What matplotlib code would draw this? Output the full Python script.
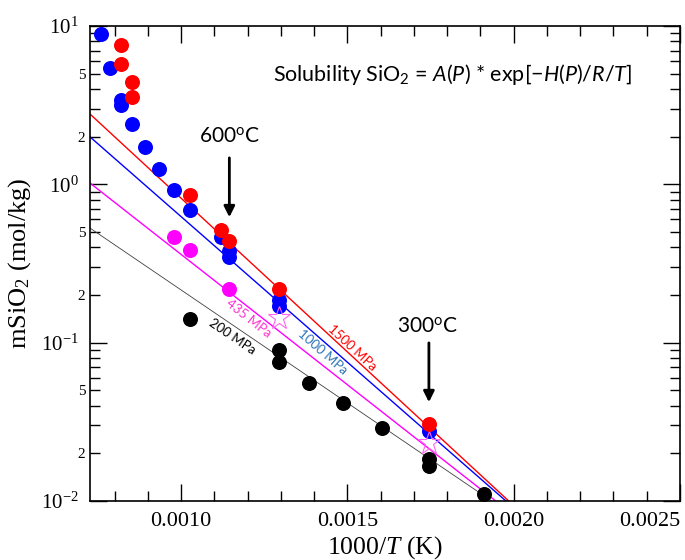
import numpy as np
import matplotlib
matplotlib.use("Agg")
import matplotlib.pyplot as plt
from matplotlib.ticker import MultipleLocator, LogLocator, FuncFormatter

# math fonts: Lato for the annotation text, serif italic (via \mathsf) for the axis label
plt.rcParams['mathtext.fontset'] = 'custom'
plt.rcParams['mathtext.rm'] = 'Lato'
plt.rcParams['mathtext.it'] = 'Lato:italic'
plt.rcParams['mathtext.sf'] = 'Liberation Serif:italic'
plt.rcParams['font.family'] = ['Liberation Serif', 'DejaVu Serif']

# data: x = 1/T (1/K), m = SiO2 molality (mol/kg)
x_1500 = [0.000818, 0.000818, 0.000853, 0.000853, 0.001028, 0.001120, 0.001145, 0.001294, 0.001745]
m_1500 = [7.59, 5.75, 4.43, 3.58, 0.856, 0.514, 0.438, 0.218, 0.0306]

x_1000 = [0.000760, 0.000786, 0.000818, 0.000818, 0.000853, 0.000890, 0.000932, 0.000978,
          0.001028, 0.001120, 0.001145, 0.001145, 0.001294, 0.001294, 0.001745]
m_1000 = [8.90, 5.43, 3.41, 3.17, 2.40, 1.72, 1.25, 0.92,
          0.688, 0.465, 0.379, 0.347, 0.186, 0.170, 0.0277]

x_435 = [0.000978, 0.001028, 0.001145]
m_435 = [0.465, 0.385, 0.218]
x_435_star = [0.001294, 0.001745]
m_435_star = [0.143, 0.0232]

x_200 = [0.001028, 0.001294, 0.001294, 0.001383, 0.001486, 0.001605, 0.001745, 0.001745, 0.001912]
m_200 = [0.141, 0.0897, 0.0754, 0.0556, 0.0415, 0.0289, 0.0184, 0.0166, 0.0111]

# fitted lines m = A * exp(-H/R/T)
fit_labels = ['1500 MPa', '1000 MPa', '435 MPa', '200 MPa']
fit_A = [71.3, 43.1, 15.96, 5.75]
fit_H = [37.16, 35.20, 31.51, 27.32]   # kJ/mol
R = 8.314

x_ticks = [0.0010, 0.0015, 0.0020, 0.0025]
x_ticklabels = ['0.0010', '0.0015', '0.0020', '0.0025']

line_colors = ['#ff0000', '#0000ff', '#ff00ff', '#404040']
text_colors = ['#ff0000', '#2e75b6', '#ff33cc', '#000000']
line_widths = [1.0, 1.0, 1.0, 0.6]
label_pos = [(0.001515, 0.0925), (0.001425, 0.0873), (0.001202, 0.143), (0.001154, 0.1084)]

fig = plt.figure(figsize=(6.85, 5.6), dpi=100)
ax = fig.add_axes([0.1314, 0.1054, 0.8613, 0.8482])
ax.set_yscale('log')
ax.set_xlim(0.000726, 0.0025)
ax.set_ylim(0.01, 10)

xx = np.linspace(0.000726, 0.0025, 300)
for A, H, c, lw in zip(fit_A, fit_H, line_colors, line_widths):
    ax.plot(xx, A * np.exp(-H * 1000 / R * xx), color=c, lw=lw, zorder=2)

ms = 10.8
ax.plot(x_1000, m_1000, 'o', color='#0000ff', ms=ms, mec='none', zorder=3)
ax.plot(x_1500, m_1500, 'o', color='#ff0000', ms=ms, mec='none', zorder=4)
ax.plot(x_435, m_435, 'o', color='#ff00ff', ms=ms, mec='none', zorder=3)
ax.plot(x_435_star, m_435_star, '*', mfc='none', mec='#ff66ee', mew=0.8, ms=17, zorder=3)
ax.plot(x_200, m_200, 'o', color='k', ms=ms, mec='none', zorder=3)

# line labels rotated along each line
for lab, A, H, c, (lx, ly) in zip(fit_labels, fit_A, fit_H, text_colors, label_pos):
    xs = np.array([0.0012, 0.0016])
    p = ax.transData.transform(np.column_stack([xs, A * np.exp(-H * 1000 / R * xs)]))
    ang = np.degrees(np.arctan2(p[1, 1] - p[0, 1], p[1, 0] - p[0, 0]))
    ax.text(lx, ly, lab, color=c, fontsize=9.5, family=['Lato', 'DejaVu Sans'],
            rotation=ang, rotation_mode='anchor', ha='center', va='center')

# temperature arrows
ax.annotate('', xy=(0.001145, 0.595), xytext=(0.001145, 1.53),
            arrowprops=dict(arrowstyle='-|>', lw=2, color='k', mutation_scale=16))
ax.text(0.001145, 1.99, '600$^\\mathdefault{o}$C', fontsize=15, family=['Lato', 'DejaVu Sans'],
        ha='center', va='center')
ax.annotate('', xy=(0.001745, 0.0404), xytext=(0.001745, 0.1038),
            arrowprops=dict(arrowstyle='-|>', lw=2, color='k', mutation_scale=16))
ax.text(0.001741, 0.1256, '300$^\\mathdefault{o}$C', fontsize=15, family=['Lato', 'DejaVu Sans'],
        ha='center', va='center')

ax.text(0.311, 0.897, 'Solubility SiO$_\\mathdefault{2}$ = $A$($P$) * exp[\u2212$H$($P$)/$R$/$T$]',
        transform=ax.transAxes, fontsize=15.5, family=['Lato', 'DejaVu Sans'], ha='left', va='center')

# axes styling
ax.set_xticks(x_ticks, x_ticklabels)
ax.xaxis.set_minor_locator(MultipleLocator(0.0001))
ax.get_xticklabels()[-1].set_horizontalalignment('right')
ax.yaxis.set_major_locator(LogLocator(base=10))
ax.yaxis.set_minor_locator(LogLocator(base=10, subs=np.arange(2, 10)))


def minor_fmt(v, pos):
    mant = v / 10 ** np.floor(np.log10(v) + 1e-9)
    return '%d' % round(mant) if round(mant) in (2, 5) else ''


ax.yaxis.set_minor_formatter(FuncFormatter(minor_fmt))
ax.tick_params(which='both', direction='in', top=True, right=True, width=1)
ax.tick_params(which='major', length=12, labelsize=15, pad=8)
ax.tick_params(which='minor', length=7)
ax.tick_params(axis='y', which='minor', labelsize=11)
ax.tick_params(axis='x', which='major', labelsize=16)
for s in ax.spines.values():
    s.set_linewidth(1.2)

ax.set_xlabel('1000/$\\mathsf{T}$ (K)', fontsize=18.5, labelpad=2)
ax.set_ylabel('mSiO$_\\mathdefault{2}$ (mol/kg)', fontsize=19, labelpad=6)

fig.savefig('out.png', dpi=100)
